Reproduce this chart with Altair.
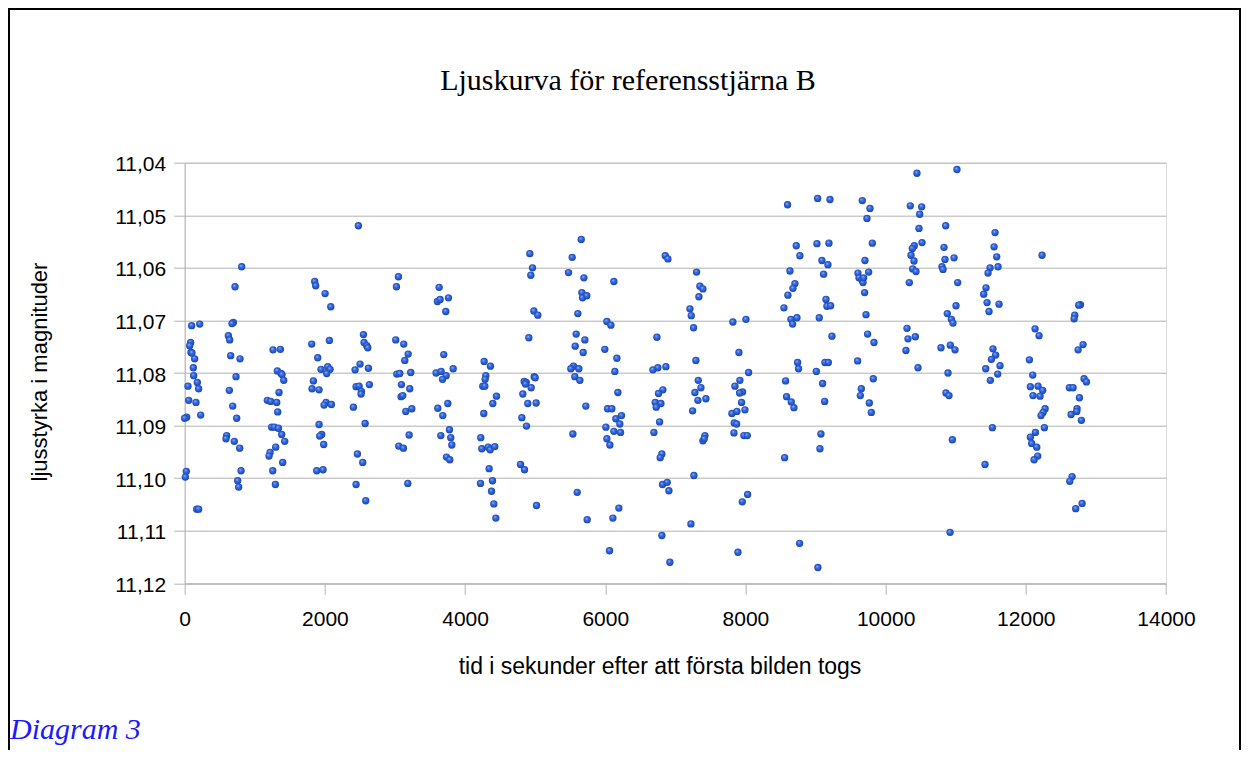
import altair as alt
import pandas as pd

TITLE = "Ljuskurva för referensstjärna B"
X_TITLE = "tid i sekunder efter att första bilden togs"
Y_TITLE = "ljusstyrka i magnituder"
CAPTION = "Diagram 3"

x_ticks = [0, 2000, 4000, 6000, 8000, 10000, 12000, 14000]
y_ticks = [11.04, 11.05, 11.06, 11.07, 11.08, 11.09, 11.10, 11.11, 11.12]

time_s = [
    99, 214, 85, 71, 90, 104, 142, 123, 128, 180, 47, 199, 57, 161, 28, 0, 228, 23, 9, 171, 199,
    813, 718, 694, 675, 623, 642, 656, 789, 732, 637, 685, 742, 599, 589, 708, 785, 804, 756, 770,
    1260, 1365, 1322, 1375, 1389, 1413, 1346, 1179, 1227, 1313, 1327, 1241, 1279, 1337, 1384, 1427, 1298, 1218, 1203, 1398, 1256, 1294,
    1855, 1869, 2003, 2084, 1812, 2064, 1898, 1945, 2041, 2074, 2026, 1836, 1817, 1917, 2017, 1988, 2093, 1917, 1955, 1926, 1983, 1884, 1974,
    2478, 2550, 2559, 2597, 2612, 2502, 2431, 2621, 2445, 2488, 2521, 2516, 2635, 2407, 2574, 2464, 2540, 2445, 2583,
    3049, 3021, 3011, 3125, 3188, 3140, 3026, 3068, 3225, 3092, 3211, 3087, 3111, 3154, 3240, 3202, 3054, 3121, 3183,
    3630, 3606, 3644, 3763, 3725, 3696, 3587, 3658, 3730, 3678, 3830, 3611, 3754, 3682, 3777, 3654, 3796, 3811, 3735, 3782,
    4272, 4362, 4296, 4286, 4253, 4282, 4448, 4396, 4267, 4224, 4239, 4329, 4358, 4424, 4343, 4220, 4391, 4377, 4410, 4439,
    4924, 4962, 4938, 4981, 5038, 4910, 4986, 5000, 4843, 4872, 4862, 4943, 4824, 4895, 5014, 4810, 4876, 4791, 4848, 5019,
    5657, 5528, 5476, 5695, 5666, 5676, 5737, 5609, 5585, 5709, 5571, 5685, 5547, 5509, 5623, 5566, 5638, 5723, 5538, 5600, 5742,
    6123, 6023, 6080, 5994, 6166, 6137, 6180, 6033, 6094, 6151, 6232, 6208, 6009, 6123, 6218, 6023, 6066, 6194, 6109, 6061,
    6856, 6894, 6737, 6680, 6751, 6865, 6822, 6760, 6713, 6794, 6727, 6775, 6694, 6808, 6784, 6817, 6884, 6908, 6808, 6922,
    7303, 7350, 7393, 7336, 7208, 7227, 7260, 7293, 7327, 7365, 7279, 7322, 7436, 7246, 7422, 7393, 7412, 7265, 7222,
    7821, 8007, 7907, 8045, 7921, 7850, 7959, 7917, 7945, 7807, 7879, 7993, 7840, 7874, 7836, 7978, 8026, 8031, 7955, 7893,
    8601, 8725, 8777, 8635, 8706, 8678, 8606, 8549, 8649, 8735, 8673, 8744, 8758, 8573, 8587, 8654, 8692, 8559, 8773,
    9030, 9206, 9020, 9191, 9091, 9177, 9115, 9149, 9163, 9215, 9053, 9234, 9134, 9182, 9011, 9101, 9130, 9077, 9063, 9034,
    9667, 9777, 9734, 9810, 9705, 9605, 9620, 9662, 9677, 9686, 9758, 9700, 9720, 9743, 9834, 9601, 9824, 9653, 9639, 9767, 9796,
    10447, 10352, 10514, 10486, 10476, 10519, 10409, 10381, 10362, 10405, 10386, 10433, 10338, 10305, 10424, 10319, 10290, 10462,
    11018, 10857, 10833, 10847, 10976, 10804, 10819, 11028, 11004, 10880, 10938, 10961, 10790, 10923, 10990, 10890, 10861, 10904, 10952, 10919,
    11561, 11547, 11585, 11490, 11461, 11604, 11432, 11399, 11447, 11475, 11618, 11532, 11570, 11509, 11632, 11428, 11599, 11494, 11523, 11418,
    12232, 12132, 12189, 12051, 12099, 12065, 12175, 12241, 12103, 12203, 12275, 12246, 12217, 12265, 12137, 12065, 12084, 12156, 12170, 12118,
    12779, 12755, 12698, 12689, 12817, 12746, 12831, 12865, 12622, 12674, 12765, 12731, 12727, 12646, 12793, 12660, 12627, 12803, 12712,
]

magnitude = [
    11.0710, 11.0707, 11.0742, 11.0748, 11.0761, 11.0762, 11.0773, 11.0790, 11.0805, 11.0818, 11.0825, 11.0830, 11.0852, 11.0856, 11.0884, 11.0886, 11.0880, 11.0987, 11.0998, 11.1059, 11.1059,
    11.0598, 11.0636, 11.0704, 11.0706, 11.0729, 11.0737, 11.0767, 11.0773, 11.0807, 11.0833, 11.0863, 11.0886, 11.0919, 11.0925, 11.0930, 11.0943, 11.0986, 11.1005, 11.1017,
    11.0756, 11.0755, 11.0796, 11.0801, 11.0803, 11.0814, 11.0837, 11.0852, 11.0854, 11.0856, 11.0874, 11.0903, 11.0903, 11.0905, 11.0917, 11.0930, 11.0941, 11.0951, 11.0958, 11.0970, 11.0986, 11.1012,
    11.0626, 11.0634, 11.0649, 11.0674, 11.0745, 11.0738, 11.0771, 11.0793, 11.0788, 11.0793, 11.0801, 11.0815, 11.0830, 11.0832, 11.0856, 11.0861, 11.0860, 11.0898, 11.0917, 11.0920, 11.0936, 11.0986, 11.0984,
    11.0520, 11.0727, 11.0742, 11.0748, 11.0752, 11.0783, 11.0794, 11.0791, 11.0826, 11.0825, 11.0835, 11.0840, 11.0822, 11.0865, 11.0896, 11.0954, 11.0970, 11.1012, 11.1043,
    11.0617, 11.0636, 11.0737, 11.0745, 11.0764, 11.0776, 11.0802, 11.0801, 11.0799, 11.0822, 11.0830, 11.0845, 11.0843, 11.0873, 11.0868, 11.0918, 11.0939, 11.0943, 11.1010,
    11.0637, 11.0664, 11.0660, 11.0657, 11.0683, 11.0765, 11.0800, 11.0797, 11.0805, 11.0812, 11.0792, 11.0867, 11.0858, 11.0881, 11.0908, 11.0919, 11.0923, 11.0937, 11.0960, 11.0965,
    11.0778, 11.0787, 11.0805, 11.0812, 11.0825, 11.0825, 11.0844, 11.0858, 11.0877, 11.0923, 11.0944, 11.0941, 11.0946, 11.0940, 11.0982, 11.1010, 11.1005, 11.1025, 11.1049, 11.1076,
    11.0573, 11.0600, 11.0614, 11.0682, 11.0690, 11.0733, 11.0807, 11.0809, 11.0816, 11.0818, 11.0821, 11.0828, 11.0840, 11.0858, 11.0857, 11.0885, 11.0901, 11.0974, 11.0984, 11.1052,
    11.0546, 11.0580, 11.0609, 11.0619, 11.0647, 11.0657, 11.0653, 11.0687, 11.0726, 11.0737, 11.0749, 11.0761, 11.0787, 11.0792, 11.0792, 11.0807, 11.0814, 11.0863, 11.0916, 11.1027, 11.1079,
    11.0626, 11.0702, 11.0709, 11.0755, 11.0772, 11.0797, 11.0837, 11.0868, 11.0868, 11.0887, 11.0881, 11.0897, 11.0903, 11.0911, 11.0913, 11.0925, 11.0937, 11.1057, 11.1076, 11.1138,
    11.0577, 11.0583, 11.0732, 11.0794, 11.0790, 11.0788, 11.0832, 11.0839, 11.0856, 11.0858, 11.0865, 11.0893, 11.0913, 11.0954, 11.0961, 11.1012, 11.1008, 11.1024, 11.1109, 11.1160,
    11.0608, 11.0635, 11.0640, 11.0655, 11.0678, 11.0691, 11.0714, 11.0776, 11.0814, 11.0828, 11.0837, 11.0852, 11.0849, 11.0872, 11.0919, 11.0929, 11.0925, 11.0995, 11.1087,
    11.0703, 11.0698, 11.0761, 11.0799, 11.0814, 11.0825, 11.0836, 11.0838, 11.0856, 11.0877, 11.0873, 11.0870, 11.0895, 11.0897, 11.0914, 11.0919, 11.0919, 11.1031, 11.1045, 11.1141,
    11.0480, 11.0558, 11.0577, 11.0606, 11.0630, 11.0639, 11.0652, 11.0676, 11.0698, 11.0695, 11.0707, 11.0780, 11.0792, 11.0815, 11.0845, 11.0855, 11.0866, 11.0961, 11.1124,
    11.0468, 11.0470, 11.0554, 11.0553, 11.0586, 11.0594, 11.0612, 11.0660, 11.0673, 11.0672, 11.0695, 11.0730, 11.0780, 11.0780, 11.0797, 11.0820, 11.0854, 11.0916, 11.0944, 11.1170,
    11.0472, 11.0487, 11.0506, 11.0553, 11.0586, 11.0610, 11.0619, 11.0623, 11.0628, 11.0619, 11.0608, 11.0647, 11.0689, 11.0726, 11.0742, 11.0777, 11.0811, 11.0830, 11.0843, 11.0857, 11.0875,
    11.0420, 11.0482, 11.0484, 11.0498, 11.0525, 11.0552, 11.0558, 11.0563, 11.0576, 11.0587, 11.0602, 11.0607, 11.0628, 11.0715, 11.0731, 11.0735, 11.0757, 11.0790,
    11.0413, 11.0520, 11.0561, 11.0584, 11.0581, 11.0598, 11.0603, 11.0628, 11.0672, 11.0687, 11.0698, 11.0705, 11.0752, 11.0747, 11.0756, 11.0800, 11.0838, 11.0843, 11.0927, 11.1103,
    11.0533, 11.0560, 11.0579, 11.0600, 11.0610, 11.0598, 11.0638, 11.0650, 11.0666, 11.0683, 11.0669, 11.0754, 11.0766, 11.0774, 11.0786, 11.0792, 11.0802, 11.0814, 11.0904, 11.0974,
    11.0576, 11.0716, 11.0729, 11.0775, 11.0804, 11.0826, 11.0825, 11.0833, 11.0843, 11.0844, 11.0868, 11.0875, 11.0881, 11.0904, 11.0913, 11.0922, 11.0934, 11.0941, 11.0958, 11.0965,
    11.0670, 11.0671, 11.0690, 11.0697, 11.0746, 11.0756, 11.0811, 11.0817, 11.0828, 11.0828, 11.0847, 11.0868, 11.0873, 11.0879, 11.0890, 11.0997, 11.1006, 11.1048, 11.1058,
]

df = pd.DataFrame({"tid": time_s, "mag": magnitude})
one = pd.DataFrame({"a": [0]})

# layout (plot area in canvas pixels)
L, T, W, H = 176.7, 154.7, 981.3, 420.6
CW, CH = 1233, 742

gray = "#b3b3b3"

x_enc = alt.X(
    "tid:Q",
    scale=alt.Scale(domain=[0, 14000], nice=False, zero=False),
    axis=alt.Axis(
        values=x_ticks, format="d", title=None, grid=False,
        labelFont="Liberation Sans", labelFontSize=21, labelColor="#000000",
        labelPadding=14, tickSize=11, tickColor=gray, domainColor=gray,
        tickWidth=1, domainWidth=1, labelFlush=False, labelOverlap=False,
    ),
)
y_enc = alt.Y(
    "mag:Q",
    scale=alt.Scale(domain=[11.04, 11.12], reverse=True, nice=False, zero=False),
    axis=alt.Axis(
        values=y_ticks, title=None, grid=True, gridColor=gray, gridWidth=1,
        labelExpr="replace(format(datum.value, '.2f'), '.', ',')",
        labelFont="Liberation Sans", labelFontSize=21, labelColor="#000000",
        labelPadding=8, labelOffset=2, tickSize=11, tickColor=gray, domainColor=gray,
        tickWidth=1, domainWidth=1, labelFlush=False, labelOverlap=False,
    ),
)

ball = {
    "gradient": "radial",
    "x1": 0.38, "y1": 0.32, "r1": 0,
    "x2": 0.5, "y2": 0.5, "r2": 0.55,
    "stops": [
        {"offset": 0, "color": "#a3c0ff"},
        {"offset": 0.35, "color": "#3c6fe0"},
        {"offset": 0.8, "color": "#1e4fc2"},
        {"offset": 1, "color": "#153b94"},
    ],
}

points = alt.Chart(df).mark_circle(size=54, opacity=1, fill=ball, strokeWidth=0).encode(
    x=x_enc, y=y_enc
)

frame = alt.Chart(one).mark_rect(fillOpacity=0, stroke="#000000", strokeWidth=2).encode(
    x=alt.value(1 - L), x2=alt.value(CW - 1 - L), y=alt.value(1 - T), y2=alt.value(CH + 40 - T)
)

title = alt.Chart(one).mark_text(
    text=TITLE, font="Liberation Serif", fontSize=30, align="center", baseline="alphabetic", color="#000000"
).encode(x=alt.value(443.3), y=alt.value(-72.7))

xtitle = alt.Chart(one).mark_text(
    text=X_TITLE, font="Liberation Sans", fontSize=23, align="center", baseline="alphabetic", color="#000000"
).encode(x=alt.value(475.3), y=alt.value(511))

ytitle = alt.Chart(one).mark_text(
    text=Y_TITLE, font="Liberation Sans", fontSize=22, align="center", baseline="middle", angle=270, color="#000000"
).encode(x=alt.value(-144.7), y=alt.value(209.3))

caption = alt.Chart(one).mark_text(
    text=CAPTION, font="Liberation Serif", fontSize=30, fontStyle="italic", align="left", baseline="alphabetic", color="#1a1aff"
).encode(x=alt.value(2 - L), y=alt.value(576))

chart = alt.layer(frame, points, title, xtitle, ytitle, caption).properties(
    width=W, height=H,
    autosize=alt.AutoSizeParams(type="none"),
    padding={"left": L, "top": T, "right": CW - L - W, "bottom": CH - T - H},
).configure_view(stroke=gray, strokeWidth=1).configure(background="#ffffff")

chart.save("out.html", embed_options={"renderer": "svg", "actions": False})
